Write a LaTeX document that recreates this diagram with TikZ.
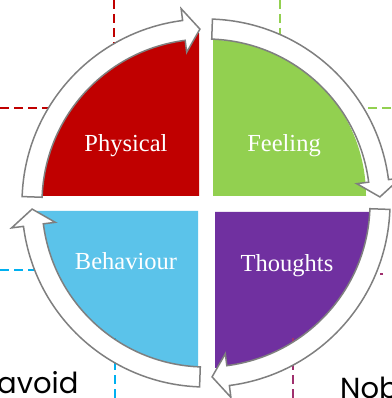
\documentclass[tikz,border=0pt]{standalone}
\usepackage{fontspec}
\newfontfamily\gothic{Poppins}
\newfontfamily\bookserif{Liberation Serif}
\usepackage{tikz}

\definecolor{physred}{HTML}{C00000}
\definecolor{feelgreen}{HTML}{92D050}
\definecolor{behavblue}{HTML}{5BC3EA}
\definecolor{thoughtpurple}{HTML}{7030A0}
\definecolor{guideblue}{HTML}{00B0F0}
\definecolor{guideplum}{HTML}{A0306E}
\definecolor{rimgray}{HTML}{7F7F7F}

\begin{document}
\begin{tikzpicture}[
    x=1pt, y=1pt,
    label/.style={text=white,font={\bookserif\fontsize{24.5}{24.5}\selectfont},anchor=base},
    guide/.style={dash pattern=on 9pt off 5pt,line width=2pt},
    cyclearrow/.style={fill=white,draw=rimgray,line width=1.5pt,line join=miter},
    side/.style={font={\gothic\fontsize{29}{29}\selectfont},anchor=base west}]

    \useasboundingbox (0,0) rectangle (391,398);

    \coordinate (C) at (206,195);

    % quadrants
    \fill[physred] (199,202) -- ++(-159,0) arc[start angle=180,end angle=90,x radius=159,y radius=163] -- cycle;
    \fill[feelgreen] (213,202) -- ++(0,156) arc[start angle=90,end angle=0,x radius=153,y radius=156] -- cycle;
    \fill[behavblue] (198,187) -- ++(-161,0) arc[start angle=180,end angle=270,x radius=161,y radius=157] -- cycle;
    \fill[thoughtpurple] (215,186) -- ++(158,0) arc[start angle=0,end angle=-90,x radius=158,y radius=156] -- cycle;

    % dashed guides
    \draw[guide,physred] (114,398) -- (114,340);
    \draw[guide,physred] (0,290) -- (60,290);
    \draw[guide,feelgreen] (280,398) -- (280,340);
    \draw[guide,feelgreen] (391,290) -- (340,290);
    \draw[guide,guideblue] (0,128) -- (50,128);
    \draw[guide,guideblue] (115,0) -- (115,60);
    \draw[guide,guideplum] (293,0) -- (293,60);
    \draw[guide,guideplum] (383,124) -- (380,124);

    % arrows round the cycle
    \draw[cyclearrow,shift={(C)}] (178:184) arc[start angle=178,end angle=97.3,radius=184]
        -- (97.3:196) -- (92:174) -- (97.3:152) -- (97.3:164)
        arc[start angle=97.3,end angle=178,radius=164] -- cycle;
    \draw[cyclearrow,shift={(C)}] (88:184) arc[start angle=88,end angle=7.3,radius=184]
        -- (7.3:196) -- (2:174) -- (7.3:152) -- (7.3:164)
        arc[start angle=7.3,end angle=88,radius=164] -- cycle;
    \draw[cyclearrow,shift={(C)}] (-2:184) arc[start angle=-2,end angle=-82.7,radius=184]
        -- (-82.7:196) -- (-88:174) -- (-82.7:152) -- (-82.7:164)
        arc[start angle=-82.7,end angle=-2,radius=164] -- cycle;
    \draw[cyclearrow,shift={(C)}] (-92:184) arc[start angle=-92,end angle=-172.7,radius=184]
        -- (-172.7:196) -- (-178:174) -- (-172.7:152) -- (-172.7:164)
        arc[start angle=-172.7,end angle=-92,radius=164] -- cycle;

    % labels
    \node[label] (physical) at (126,246) {Physical};
    \node[label] (feeling) at (284,246) {Feeling};
    \node[label] (behaviour) at (126,128) {Behaviour};
    \node[label] (thoughts) at (287,126) {Thoughts};

    \node[side,inner sep=0pt] (avoid) at (-3,5) {avoid};
    \node[side,inner sep=0pt] (nob) at (340,-1) {Nob};

\end{tikzpicture}
\end{document}
